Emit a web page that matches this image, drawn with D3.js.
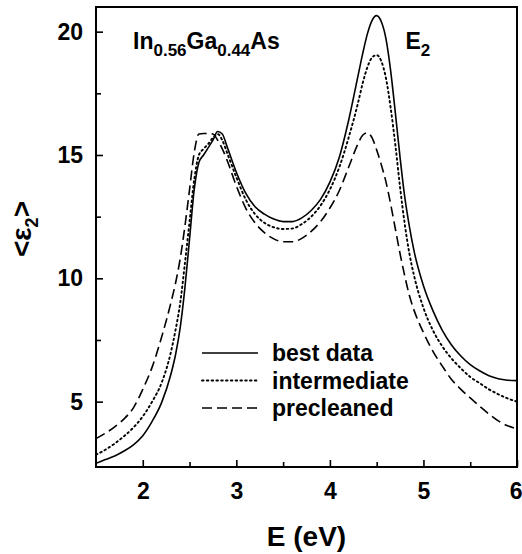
<!DOCTYPE html>
<html>
<head>
<meta charset="utf-8">
<script src="https://cdn.jsdelivr.net/npm/d3@7"></script>
<style>
  html, body { margin: 0; padding: 0; background: #fff; }
  svg { display: block; }
  text { font-family: "Liberation Sans", Arial, Helvetica, sans-serif; font-weight: bold; fill: #000; }
</style>
</head>
<body>
<svg id="chart" width="522" height="554"></svg>
<script>
// Photon energy grid (eV)
const energy = [1.5,1.6,1.7,1.8,1.9,2.0,2.1,2.2,2.3,2.35,2.4,2.45,2.5,2.55,2.6,2.65,2.7,2.75,2.8,2.85,2.9,
  3.0,3.1,3.2,3.3,3.4,3.5,3.6,3.7,3.8,3.9,4.0,4.1,4.2,4.3,4.35,4.4,4.45,4.5,4.55,4.6,4.65,4.7,4.75,4.8,4.85,4.9,
  5.0,5.1,5.2,5.3,5.4,5.5,5.6,5.7,5.8,5.9,6.0];

// <eps2> spectra for the three surface states
const bestData = [2.50,2.65,2.80,3.00,3.25,3.62,4.2,4.95,6.1,6.9,8.0,9.6,11.6,13.6,14.7,15.0,15.3,15.6,15.95,15.85,15.35,
  14.3,13.45,12.9,12.6,12.4,12.3,12.3,12.45,12.75,13.2,13.9,14.9,16.4,18.2,19.1,19.9,20.45,20.65,20.4,19.7,18.4,16.7,14.9,13.3,12.1,11.1,
  9.7,8.7,7.9,7.3,6.85,6.5,6.25,6.05,5.93,5.87,5.85];

const intermediate = [2.85,3.05,3.3,3.6,3.95,4.4,5.0,5.75,7.0,7.9,9.0,10.6,12.3,14.0,15.0,15.25,15.45,15.7,15.85,15.6,15.1,
  14.1,13.2,12.6,12.25,12.07,12.0,12.02,12.2,12.5,12.95,13.6,14.5,15.7,17.1,17.9,18.55,18.95,19.05,18.8,18.1,16.9,15.4,13.7,12.2,11.0,10.1,
  8.8,7.9,7.25,6.75,6.35,6.0,5.75,5.5,5.3,5.13,5.0];

const precleaned = [3.5,3.72,3.98,4.3,4.75,5.5,6.4,7.6,9.0,9.8,10.8,12.1,13.6,15.1,15.85,15.87,15.87,15.85,15.6,15.25,14.8,
  13.75,12.85,12.25,11.85,11.6,11.48,11.48,11.62,11.9,12.3,12.85,13.55,14.5,15.45,15.8,15.9,15.7,15.2,14.6,13.9,13.0,12.0,11.0,10.1,9.3,8.7,
  7.8,7.05,6.45,5.9,5.5,5.15,4.82,4.5,4.22,4.02,3.9];

const seriesNames = ["best data", "intermediate", "precleaned"];
const seriesDash = ["none", "1.6 3.2", "10 5"];

const xMajor = [2, 3, 4, 5, 6];
const xMinor = [2.5, 3.5, 4.5, 5.5];
const yMajor = [5, 10, 15, 20];
const yMinor = [7.5, 12.5, 17.5];

const svg = d3.select("#chart");
const margin = { left: 96, top: 7, right: 5, bottom: 87 };
const W = 522 - margin.left - margin.right;
const H = 554 - margin.top - margin.bottom;

const x = d3.scaleLinear().domain([1.5, 6]).range([0, W]);
const y = d3.scaleLinear().domain([2.35, 21]).range([H, 0]);

const g = svg.append("g").attr("transform", `translate(${margin.left},${margin.top})`);

const clip = svg.append("defs").append("clipPath").attr("id", "plot-clip");
clip.append("rect").attr("x", 0).attr("y", 0).attr("width", W).attr("height", H);

// Curves
const allSeries = [bestData, intermediate, precleaned];
const line = d3.line()
  .x(d => x(d[0]))
  .y(d => y(d[1]))
  .curve(d3.curveMonotoneX);

const plot = g.append("g").attr("clip-path", "url(#plot-clip)");
allSeries.forEach((vals, i) => {
  plot.append("path")
    .datum(energy.map((e, k) => [e, vals[k]]))
    .attr("fill", "none")
    .attr("stroke", "#000")
    .attr("stroke-width", i === 1 ? 1.9 : 1.6)
    .attr("stroke-linecap", i === 1 ? "round" : "butt")
    .attr("stroke-dasharray", seriesDash[i])
    .attr("d", line);
});

// Axes: ticks point inward
const xAxisMajor = d3.axisBottom(x).tickValues(xMajor).tickSize(-7).tickPadding(16).tickFormat(d3.format("d"));
const xAxisMinor = d3.axisBottom(x).tickValues(xMinor).tickSize(-5).tickFormat("");
const yAxisMajor = d3.axisLeft(y).tickValues(yMajor).tickSize(-7).tickPadding(13).tickFormat(d3.format("d"));
const yAxisMinor = d3.axisLeft(y).tickValues(yMinor).tickSize(-5).tickFormat("");

function styleAxis(sel) {
  sel.select(".domain").remove();
  sel.selectAll("line").attr("stroke", "#000").attr("stroke-width", 1.6);
  sel.selectAll("text").style("font-size", "23px").style("font-family", "'Liberation Sans', Arial, sans-serif").style("font-weight", "bold");
}

const xAxisG = g.append("g").attr("transform", `translate(0,${H})`).call(xAxisMajor).call(styleAxis);
xAxisG.selectAll("text").attr("dy", "0.71em");
// keep the last label inside the page edge
xAxisG.selectAll(".tick").filter(d => d === 6).select("text").attr("text-anchor", "end").attr("x", 5);
g.append("g").attr("transform", `translate(0,${H})`).call(xAxisMinor).call(styleAxis);
g.append("g").call(yAxisMajor).call(styleAxis);
g.append("g").call(yAxisMinor).call(styleAxis);

// Frame
g.append("rect")
  .attr("x", 0).attr("y", 0).attr("width", W).attr("height", H)
  .attr("fill", "none").attr("stroke", "#000").attr("stroke-width", 2);

// Axis titles
svg.append("text")
  .attr("x", margin.left + x(3.75)).attr("y", 546)
  .attr("text-anchor", "middle")
  .style("font-size", "28px")
  .text("E (eV)");

const yTitle = svg.append("text")
  .attr("transform", `translate(31,229) rotate(-90)`)
  .attr("text-anchor", "middle")
  .style("font-size", "28px");
yTitle.append("tspan").text("<ε");
yTitle.append("tspan").attr("dy", 7).style("font-size", "18px").text("2");
yTitle.append("tspan").attr("dy", -7).text(">");

// Sample label
const sample = g.append("text").attr("x", x(1.5) + 37).attr("y", 42).style("font-size", "23px");
sample.append("tspan").text("In");
sample.append("tspan").attr("dy", 7).style("font-size", "17px").text("0.56");
sample.append("tspan").attr("dy", -7).text("Ga");
sample.append("tspan").attr("dy", 7).style("font-size", "17px").text("0.44");
sample.append("tspan").attr("dy", -7).text("As");

// Critical point label
const e2 = g.append("text").attr("x", x(5.0) - 18).attr("y", 42).style("font-size", "23px");
e2.append("tspan").text("E");
e2.append("tspan").attr("dy", 7).style("font-size", "17px").text("2");

// Legend
const legend = g.append("g").attr("transform", `translate(106,346)`);
seriesNames.forEach((name, i) => {
  const row = legend.append("g").attr("transform", `translate(0,${i * 27.5})`);
  row.append("line")
    .attr("x1", 0).attr("x2", 56).attr("y1", 0).attr("y2", 0)
    .attr("stroke", "#000")
    .attr("stroke-width", i === 1 ? 1.9 : 1.6)
    .attr("stroke-linecap", i === 1 ? "round" : "butt")
    .attr("stroke-dasharray", seriesDash[i]);
  row.append("text")
    .attr("x", 70).attr("y", 0).attr("dy", "0.35em")
    .style("font-size", "23px")
    .text(name);
});
</script>
</body>
</html>
